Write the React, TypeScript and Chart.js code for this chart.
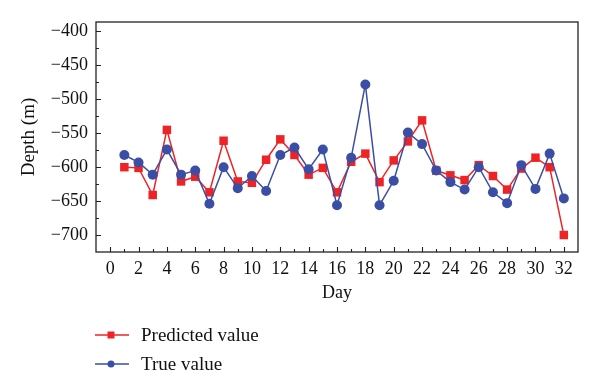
import React, { useEffect, useRef } from "react";
import { Chart, registerables } from "chart.js";

Chart.register(...registerables);

const days = [1, 2, 3, 4, 5, 6, 7, 8, 9, 10, 11, 12, 13, 14, 15, 16, 17, 18, 19, 20, 21, 22, 23, 24, 25, 26, 27, 28, 29, 30, 31, 32];
const predicted = [-600, -601, -641, -545, -621, -614, -637, -561, -621, -623, -589, -559, -582, -611, -601, -637, -592, -580, -622, -590, -562, -531, -605, -612, -619, -597, -613, -633, -602, -586, -600, -700];
const trueValues = [-582, -593, -611, -574, -611, -605, -654, -600, -631, -613, -635, -582, -571, -603, -574, -656, -586, -478, -656, -620, -549, -566, -605, -622, -633, -600, -637, -653, -597, -632, -580, -646];

const xTickValues = [0, 2, 4, 6, 8, 10, 12, 14, 16, 18, 20, 22, 24, 26, 28, 30, 32];
const yTickValues = [-700, -650, -600, -550, -500, -450, -400];
const xRange = [-1, 33];
const yRange = [-725, -386];

const RED = "#ee2326";
const BLUE = "#3a4ea5";
const FONT = "'Liberation Serif', 'DejaVu Serif', serif";

const frameTicks = {
  id: "frameTicks",
  afterDraw(chart: any) {
    const { ctx, chartArea } = chart;
    const xs = chart.scales.x;
    const ys = chart.scales.y;
    ctx.save();
    ctx.strokeStyle = "#222";
    ctx.lineWidth = 1.3;
    ctx.strokeRect(chartArea.left, chartArea.top, chartArea.right - chartArea.left, chartArea.bottom - chartArea.top);
    ctx.lineWidth = 1.1;
    ctx.beginPath();
    for (let v = 0; v <= 32; v++) {
      const px = Math.round(xs.getPixelForValue(v)) + 0.5;
      const len = v % 2 === 0 ? 5 : 3;
      ctx.moveTo(px, chartArea.bottom);
      ctx.lineTo(px, chartArea.bottom - len);
    }
    for (let v = -700; v <= -400; v += 25) {
      const py = Math.round(ys.getPixelForValue(v)) + 0.5;
      const len = v % 50 === 0 ? 5 : 3;
      ctx.moveTo(chartArea.left, py);
      ctx.lineTo(chartArea.left + len, py);
    }
    ctx.stroke();
    ctx.restore();
  },
};

export default function App() {
  const ref = useRef<HTMLCanvasElement | null>(null);
  useEffect(() => {
    if (!ref.current) return;
    const chart = new Chart(ref.current, {
      type: "line",
      data: {
        datasets: [
          {
            label: "Predicted value",
            data: days.map((d, i) => ({ x: d, y: predicted[i] })),
            borderColor: RED,
            backgroundColor: RED,
            borderWidth: 1.5,
            pointStyle: "rect",
            pointRadius: 6,
            pointBorderWidth: 0,
            order: 2,
          },
          {
            label: "True value",
            data: days.map((d, i) => ({ x: d, y: trueValues[i] })),
            borderColor: BLUE,
            backgroundColor: BLUE,
            borderWidth: 1.5,
            pointStyle: "circle",
            pointRadius: 5,
            pointBorderWidth: 0,
            order: 1,
          },
        ],
      },
      options: {
        animation: false,
        responsive: false,
        layout: { padding: { top: 22, right: 22, bottom: 87, left: 0 } },
        plugins: { legend: { display: false }, tooltip: { enabled: false } },
        scales: {
          x: {
            type: "linear",
            min: xRange[0],
            max: xRange[1],
            afterFit: (s: any) => { s.height = 52; },
            afterBuildTicks: (s: any) => { s.ticks = xTickValues.map((v) => ({ value: v })); },
            ticks: {
              color: "#111",
              padding: 6,
              maxRotation: 0,
              autoSkip: false,
              font: { family: FONT, size: 18 },
            },
            grid: { display: true, drawOnChartArea: false, drawTicks: false },
            border: { display: false },
            title: { display: true, text: "Day", color: "#111", font: { family: FONT, size: 18 }, padding: { top: 0, bottom: 0 } },
          },
          y: {
            type: "linear",
            min: yRange[0],
            max: yRange[1],
            afterFit: (s: any) => { s.width = 96; },
            afterBuildTicks: (s: any) => { s.ticks = yTickValues.map((v) => ({ value: v })); },
            ticks: {
              color: "#111",
              padding: 8,
              autoSkip: false,
              font: { family: FONT, size: 18 },
              callback: (v: any) => String(v).replace("-", "\u2212"),
            },
            grid: { display: true, drawOnChartArea: false, drawTicks: false },
            border: { display: false },
            title: { display: true, text: "Depth (m)", color: "#111", font: { family: FONT, size: 19 }, padding: { top: 18, bottom: 0 } },
          },
        },
      } as any,
      plugins: [frameTicks],
    });
    return () => chart.destroy();
  }, []);

  const legendRow = (top: number, color: string, square: boolean, text: string) => (
    <div style={{ position: "absolute", left: 94, top: top - 12, height: 24, display: "flex", alignItems: "center" }}>
      <svg width={36} height={24} style={{ display: "block" }}>
        <line x1={1} y1={12} x2={35} y2={12} stroke={color} strokeWidth={1.5} />
        {square ? <rect x={13.5} y={8.5} width={7} height={7} fill={color} /> : <circle cx={17} cy={12} r={3.5} fill={color} />}
      </svg>
      <span style={{ marginLeft: 11, fontFamily: FONT, fontSize: 19, color: "#111", lineHeight: "24px" }}>{text}</span>
    </div>
  );

  return (
    <div style={{ position: "fixed", left: 0, top: 0, width: 600, height: 391, background: "#fff" }}>
      <canvas ref={ref} width={600} height={391} style={{ display: "block", width: 600, height: 391 }} />
      {legendRow(335, RED, true, "Predicted value")}
      {legendRow(364, BLUE, false, "True value")}
    </div>
  );
}
